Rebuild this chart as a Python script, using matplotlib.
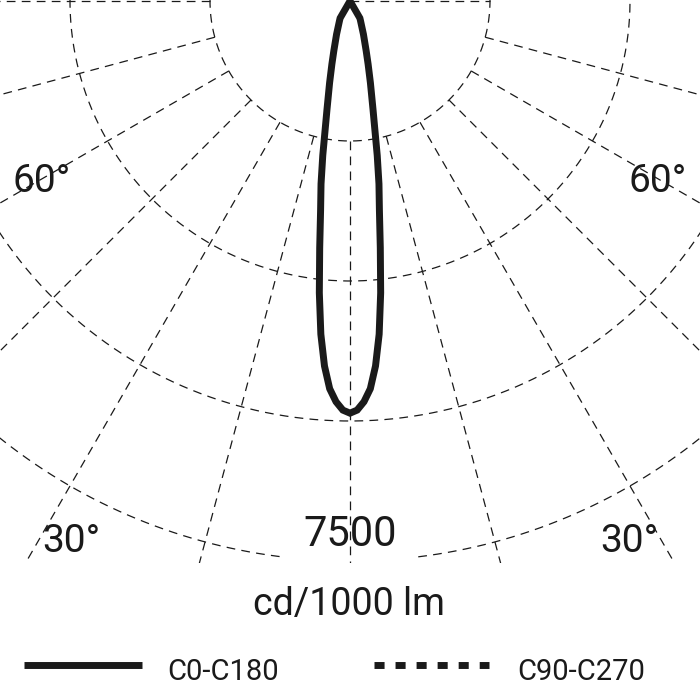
import numpy as np
import matplotlib.pyplot as plt
from matplotlib.patches import Polygon

plt.rcParams['font.family'] = ['Roboto', 'DejaVu Sans']

# кривая силы света C0-C180, кд/1000 лм (симметрична относительно 0°)
angles = [0, 1, 2, 3, 4, 5, 6, 7, 8, 9, 10, 12, 14, 16, 18, 22, 28, 30, 35]
c0_c180 = [5520, 5480, 5370, 5200, 4900, 4480, 3930, 3330, 2830, 2480, 2100,
           1480, 1130, 880, 700, 480, 300, 265, 0]

rings = [1875, 3750, 5625, 7500]
spokes = [-90, -75, -60, -45, -30, -15, 0, 15, 30, 45, 60, 75, 90]
ring_label = '7500'
unit_label = 'cd/1000 lm'
legend_labels = ['C0-C180', 'C90-C270']

ink = '#1a1a1a'
s = 7500 / 560          # кд на пиксель
dash = (0, (7, 5))


def px(xp, yp):
    # пиксели картинки -> координаты диаграммы
    return (xp - 350) * s, yp * s


fig = plt.figure(figsize=(7, 7), dpi=100)
bg = fig.add_axes([0, 0, 1, 1])
bg.set_xlim(0, 700)
bg.set_ylim(700, 0)
bg.axis('off')

ax = fig.add_axes([0, 1 - 563 / 700, 1, 563 / 700])
ax.set_xlim(-350 * s, 350 * s)
ax.set_ylim(562 * s, -1 * s)
ax.axis('off')

# окружности сетки
for r in rings:
    if r == rings[-1]:
        t = np.radians(np.linspace(7, 353, 700))
    else:
        t = np.radians(np.linspace(-100, 100, 600))
    ax.plot(r * np.sin(t), r * np.cos(t), color=ink, lw=0.9, ls=dash)

# лучи
for a in spokes:
    t = np.radians(a)
    if a == 90:
        r0, r1 = 0, rings[0]
    else:
        r0, r1 = rings[0], 14000
    ax.plot([r0 * np.sin(t), r1 * np.sin(t)], [r0 * np.cos(t), r1 * np.cos(t)],
            color=ink, lw=0.9, ls=dash)

# кривая
th = np.radians(np.concatenate([-np.array(angles[::-1]), np.array(angles[1:])]))
val = np.concatenate([np.array(c0_c180[::-1]), np.array(c0_c180[1:])])
pts = np.column_stack([val * np.sin(th), val * np.cos(th)])[:-1]
beam = Polygon(pts, closed=True, fill=False, edgecolor=ink, lw=5, joinstyle='miter')
ax.add_patch(beam)

# подписи углов
for xp, yp, txt in [(42, 191, '60°'), (658, 191, '60°'), (71, 551, '30°'), (629, 551, '30°')]:
    ax.text(*px(xp, yp), txt, ha='center', va='baseline', fontsize=28, color=ink)
ax.annotate(ring_label, (0, rings[-1]), xytext=(0, 11), textcoords='offset points',
            ha='center', va='baseline', fontsize=30, color=ink)

bg.text(349, 615, unit_label, ha='center', va='baseline', fontsize=27, color=ink)

# легенда
bg.plot([24, 142], [665, 665], color=ink, lw=5, solid_capstyle='butt')
bg.plot([374, 489], [665, 665], color=ink, lw=5, ls=(0, (1.45, 1.58)), dash_capstyle='butt')
bg.text(167, 680, legend_labels[0], ha='left', va='baseline', fontsize=21, color=ink)
bg.text(517, 680, legend_labels[1], ha='left', va='baseline', fontsize=21, color=ink)

fig.savefig('out.png', dpi=100)
